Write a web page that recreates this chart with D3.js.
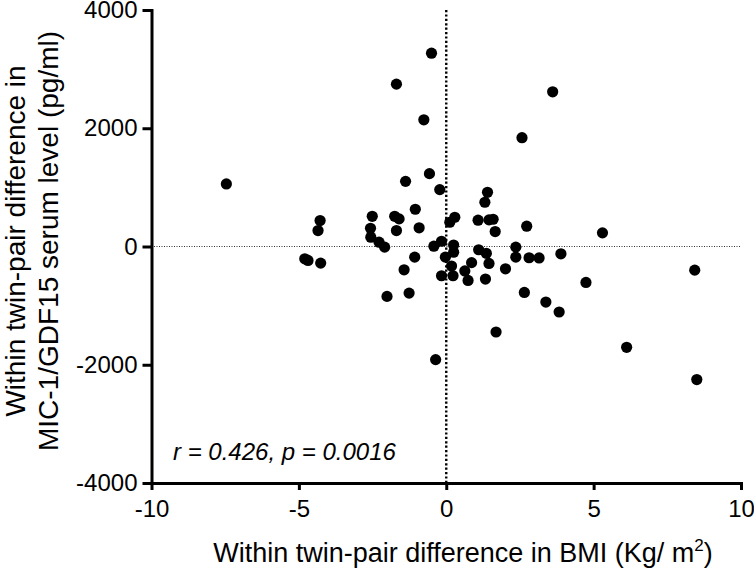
<!DOCTYPE html>
<html>
<head>
<meta charset="utf-8">
<script src="https://cdn.jsdelivr.net/npm/d3@7"></script>
<style>
  html, body { margin: 0; padding: 0; background: #fff; }
  svg { display: block; }
  text { font-family: "Liberation Sans", Arial, Helvetica, sans-serif; fill: #000; }
</style>
</head>
<body>
<svg id="chart" width="754" height="573"></svg>
<script>
// BMI difference (x) and MIC-1/GDF15 difference (y) for each twin pair
const bmiDiff = [
  -7.46, -4.28, -4.35, -4.80, -4.69, -4.26, -2.51, -2.57, -2.56, -2.28,
  -2.09, -2.01, -1.75, -1.60, -1.69, -1.69, -1.38, -1.05, -0.92, -1.07,
  -1.43, -1.26, -0.76, -0.57, -0.50, -0.22, -0.42, -0.16, -0.36, -0.16,
  -0.03, 0.12, 0.29, 0.25, 0.25, 0.18, 0.23, 1.08, 1.45, 1.59,
  1.66, 1.40, 1.31, 2.73, 2.57, 3.61, 5.30, 1.10, 1.36, 0.86,
  0.63, 0.74, 1.45, 1.33, 2.01, 2.36, 2.36, 2.81, 3.15, 3.89,
  4.74, 2.65, 3.38, 3.83, 1.69, 6.12, 8.43, 8.50
];
const gdf15Diff = [
  1058, 439, 270, -208, -236, -281, 511, 309, 157, 73,
  -11, -844, 511, 467, 270, 2746, 1102, 630, 316, -180,
  -394, -788, 2143, 1232, 3269, 962, 5, 89, -1913, -495,
  -180, 410, 495, 25, -96, -330, -495, 445, 450, 461,
  253, 917, 748, 343, 1840, 2616, 231, -55, -115, -273,
  -413, -574, -287, -551, -377, -11, -180, -190, -194, -124,
  -608, -777, -940, -1108, -1446, -1705, -400, -2250
];
const xTicks = [-10, -5, 0, 5, 10];
const yTicks = [-4000, -2000, 0, 2000, 4000];
const xTitle = "Within twin-pair difference in BMI (Kg/ m";
const yTitleLines = ["Within twin-pair difference in", "MIC-1/GDF15 serum level (pg/ml)"];
const statText = "r = 0.426, p = 0.0016";

const points = bmiDiff.map((x, i) => ({ x: x, y: gdf15Diff[i] }));

const svg = d3.select("#chart");
const x = d3.scaleLinear().domain([-10, 10]).range([151.5, 741]);
const y = d3.scaleLinear().domain([-4000, 4000]).range([483, 10]);
const fmt = d => String(d); // plain hyphen-minus like the reference

// zero reference lines
svg.append("line")
  .attr("x1", x(-10)).attr("x2", x(10))
  .attr("y1", y(0)).attr("y2", y(0))
  .attr("stroke", "#333").attr("stroke-width", 1)
  .attr("stroke-dasharray", "1,1.5");
svg.append("line")
  .attr("x1", x(0)).attr("x2", x(0))
  .attr("y1", y(4000)).attr("y2", y(-4000))
  .attr("stroke", "#000").attr("stroke-width", 2.4)
  .attr("stroke-dasharray", "2.2,2.2");

// axes
const yAxis = svg.append("g")
  .attr("transform", `translate(${x(-10)},0)`)
  .call(d3.axisLeft(y).tickValues(yTicks).tickSize(9).tickSizeOuter(0).tickPadding(5)
        .tickFormat(fmt));
const xAxis = svg.append("g")
  .attr("transform", `translate(0,${y(-4000)})`)
  .call(d3.axisBottom(x).tickValues(xTicks).tickSize(7).tickSizeOuter(0).tickPadding(10)
        .tickFormat(fmt));

[yAxis, xAxis].forEach(g => {
  g.attr("font-size", 24).attr("font-family", "'Liberation Sans', Arial, Helvetica, sans-serif");
  g.select(".domain").attr("stroke", "#000").attr("stroke-width", 3).attr("stroke-linecap", "square");
  g.selectAll(".tick line").attr("stroke", "#000").attr("stroke-width", 3);
  g.selectAll(".tick text").attr("font-size", 24).attr("fill", "#000");
});

// points
svg.append("g").selectAll("circle")
  .data(points)
  .join("circle")
  .attr("cx", d => x(d.x))
  .attr("cy", d => y(d.y))
  .attr("r", 5.6)
  .attr("fill", "#000");

// stats annotation
svg.append("text")
  .attr("x", 173).attr("y", 460)
  .attr("font-size", 24).attr("font-style", "italic")
  .text(statText);

// x title
const xt = svg.append("text")
  .attr("x", 463).attr("y", 562)
  .attr("text-anchor", "middle")
  .attr("font-size", 27);
xt.append("tspan").text(xTitle);
xt.append("tspan").attr("font-size", 17).attr("dy", -11).text("2");
xt.append("tspan").attr("dy", 11).text(")");

// y title (two lines, rotated)
const yBaselines = [25, 58];
yTitleLines.forEach((line, i) => {
  svg.append("text")
    .attr("transform", `translate(${yBaselines[i]},241) rotate(-90)`)
    .attr("text-anchor", "middle")
    .attr("font-size", 28)
    .text(line);
});
</script>
</body>
</html>
